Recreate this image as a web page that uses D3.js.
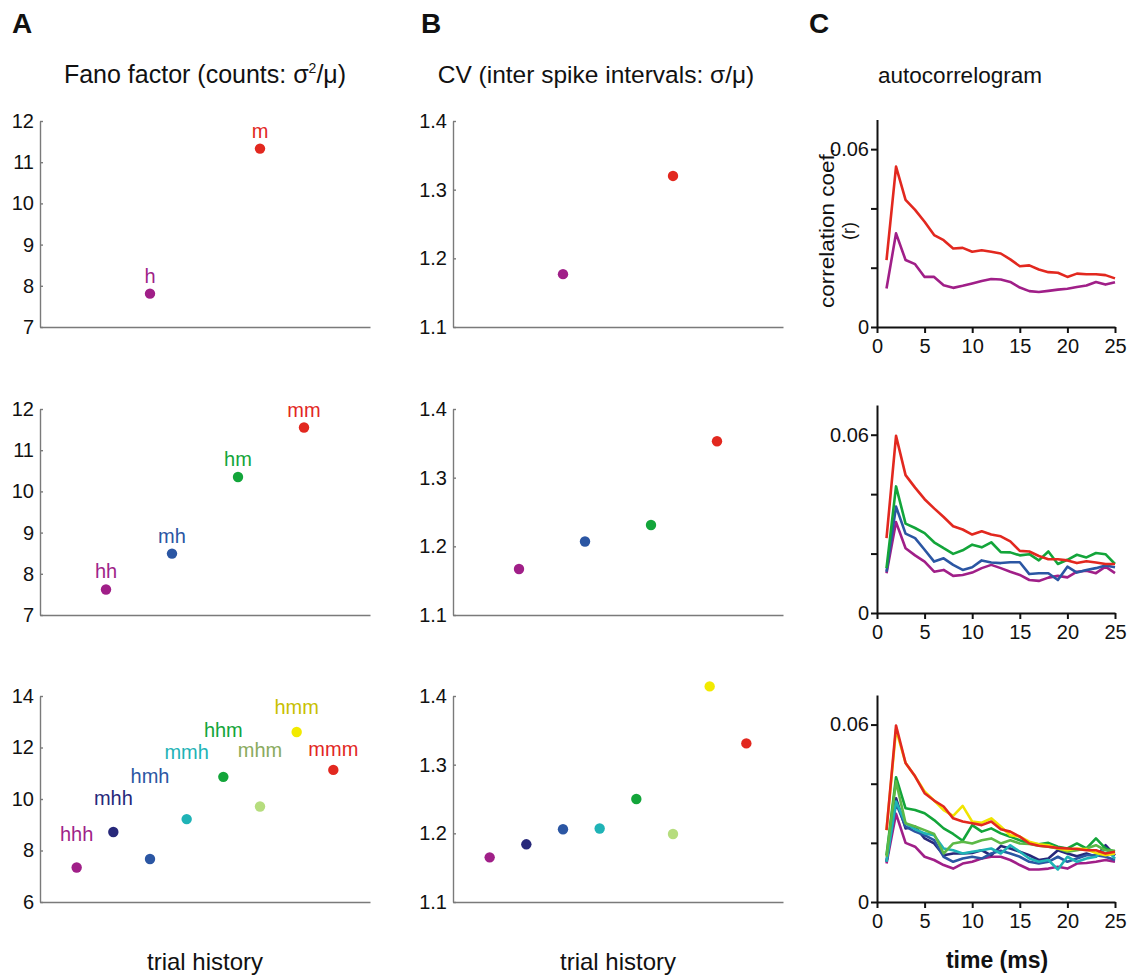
<!DOCTYPE html>
<html>
<head>
<meta charset="utf-8">
<script src="https://cdn.jsdelivr.net/npm/d3@7"></script>
<style>
  body { margin: 0; background: #fff; }
  svg { display: block; font-family: 'Liberation Sans', Arial, Helvetica, sans-serif; }
</style>
</head>
<body>
<div id="chart"></div>
<script>
// trial history categories, one list per row
const cats1 = ['h', 'm'];
const cats2 = ['hh', 'mh', 'hm', 'mm'];
const cats3 = ['hhh', 'mhh', 'hmh', 'mmh', 'hhm', 'mhm', 'hmm', 'mmm'];

// Fano factor (counts)
const fano1 = [7.81, 11.33];
const fano2 = [7.62, 8.49, 10.35, 11.55];
const fano3 = [7.34, 8.72, 7.67, 9.22, 10.86, 9.71, 12.6, 11.13];
// label heights of the third row, in Fano units
const fano3Labels = [8.35, 9.77, 10.61, 11.54, 12.42, 11.64, 13.29, 11.68];

// CV of inter spike intervals
const cv1 = [1.177, 1.32];
const cv2 = [1.167, 1.207, 1.231, 1.353];
const cv3 = [1.165, 1.184, 1.206, 1.207, 1.25, 1.199, 1.414, 1.331];

// tick values
const fanoTicks = [7, 8, 9, 10, 11, 12];
const fanoTicks3 = [6, 8, 10, 12, 14];
const cvTicks = [1.1, 1.2, 1.3, 1.4];
const lagTicks = [0, 5, 10, 15, 20, 25];
const corrTicks = [0, 0.02, 0.04, 0.06];

// autocorrelograms, lag 1..25 ms
const lags = [1, 2, 3, 4, 5, 6, 7, 8, 9, 10, 11, 12, 13, 14, 15, 16, 17, 18, 19, 20, 21, 22, 23, 24, 25];
const ac_h = [0.013, 0.0316, 0.0226, 0.0212, 0.0169, 0.0169, 0.0141, 0.0132, 0.0139, 0.0147, 0.0155, 0.0162, 0.016, 0.0152, 0.0133, 0.0121, 0.0118, 0.0122, 0.0126, 0.0129, 0.0135, 0.014, 0.0152, 0.0143, 0.0151];
const ac_m = [0.0226, 0.0541, 0.0429, 0.0395, 0.0355, 0.031, 0.0293, 0.0265, 0.0267, 0.0254, 0.0259, 0.0254, 0.0248, 0.0228, 0.0205, 0.0208, 0.0194, 0.0185, 0.0183, 0.0169, 0.018, 0.0178, 0.0178, 0.0175, 0.0164];

const ac_hh = [0.0134, 0.0306, 0.0218, 0.0194, 0.0173, 0.0139, 0.0145, 0.0125, 0.0128, 0.0136, 0.0151, 0.0162, 0.0151, 0.0139, 0.0128, 0.0111, 0.0108, 0.0119, 0.0125, 0.012, 0.0139, 0.0142, 0.0134, 0.0156, 0.0134];
const ac_mh = [0.0139, 0.0358, 0.0267, 0.0252, 0.0213, 0.0173, 0.0184, 0.0162, 0.0145, 0.0154, 0.0177, 0.017, 0.0168, 0.0171, 0.0171, 0.0131, 0.0134, 0.0134, 0.0111, 0.0156, 0.0136, 0.0145, 0.0151, 0.016, 0.0154];
const ac_hm = [0.0151, 0.0426, 0.0301, 0.0286, 0.0269, 0.0238, 0.0218, 0.0199, 0.0211, 0.023, 0.0221, 0.0238, 0.0205, 0.0204, 0.0194, 0.0198, 0.0177, 0.0207, 0.0165, 0.0179, 0.0196, 0.0187, 0.0202, 0.0198, 0.0165];
const ac_mm = [0.0252, 0.0596, 0.0464, 0.0422, 0.0383, 0.0352, 0.0323, 0.0292, 0.0281, 0.0264, 0.0275, 0.0264, 0.0258, 0.0241, 0.0209, 0.0207, 0.0192, 0.0181, 0.0181, 0.0177, 0.0168, 0.0174, 0.017, 0.0165, 0.0165];

const ac_hhh = [0.013, 0.0298, 0.02, 0.0187, 0.0153, 0.0142, 0.0125, 0.0113, 0.013, 0.0136, 0.0147, 0.0153, 0.0153, 0.0142, 0.0125, 0.011, 0.011, 0.0113, 0.0119, 0.0113, 0.013, 0.0132, 0.0136, 0.0142, 0.0136];
const ac_mhh = [0.0136, 0.0351, 0.0249, 0.0255, 0.0215, 0.0198, 0.0158, 0.0164, 0.0164, 0.0166, 0.0175, 0.0158, 0.0189, 0.0181, 0.017, 0.0158, 0.0142, 0.0147, 0.0175, 0.0164, 0.0155, 0.0164, 0.0153, 0.0192, 0.0158];
const ac_hmh = [0.0136, 0.0334, 0.0255, 0.0238, 0.0226, 0.0209, 0.0153, 0.0136, 0.0147, 0.0153, 0.0147, 0.0164, 0.0173, 0.0164, 0.0153, 0.0136, 0.013, 0.0136, 0.0153, 0.0136, 0.0147, 0.0158, 0.0158, 0.0153, 0.0142];
const ac_mmh = [0.0136, 0.034, 0.0266, 0.0246, 0.0232, 0.0226, 0.0181, 0.0175, 0.0164, 0.017, 0.0175, 0.0181, 0.0164, 0.0192, 0.017, 0.0147, 0.0136, 0.0142, 0.011, 0.0153, 0.0136, 0.0147, 0.0153, 0.0181, 0.0147];
const ac_hhm = [0.0158, 0.0422, 0.0317, 0.0311, 0.03, 0.0277, 0.0249, 0.023, 0.0207, 0.026, 0.0238, 0.0249, 0.0232, 0.0221, 0.0209, 0.0198, 0.0195, 0.02, 0.0187, 0.0181, 0.0198, 0.0181, 0.0215, 0.0181, 0.017];
const ac_mhm = [0.0153, 0.0408, 0.0266, 0.0255, 0.0243, 0.023, 0.0164, 0.0198, 0.0204, 0.0198, 0.0209, 0.0215, 0.0198, 0.0209, 0.0198, 0.0196, 0.019, 0.0187, 0.0181, 0.017, 0.0175, 0.0181, 0.0192, 0.0175, 0.0173];
const ac_hmm = [0.0243, 0.0583, 0.047, 0.0425, 0.0374, 0.0343, 0.0311, 0.0291, 0.0325, 0.0272, 0.0268, 0.0283, 0.0255, 0.0226, 0.0221, 0.0204, 0.0195, 0.0192, 0.0181, 0.0175, 0.0181, 0.0178, 0.0166, 0.0158, 0.0164];
const ac_mmm = [0.0243, 0.0597, 0.047, 0.0425, 0.0368, 0.0343, 0.0323, 0.0283, 0.0272, 0.0266, 0.026, 0.0272, 0.0246, 0.0238, 0.0221, 0.0198, 0.019, 0.0187, 0.0183, 0.0181, 0.0179, 0.0175, 0.0175, 0.0164, 0.017];

// colours per history
const dotColor = {
    h: '#a01f88', hh: '#a01f88', hhh: '#a01f88',
    m: '#e2281f', mm: '#e2281f', mmm: '#e2281f',
    mh: '#2b56a3', hmh: '#2b56a3',
    hm: '#13a53a', hhm: '#13a53a',
    mhh: '#27287a', mmh: '#1fb3b6',
    mhm: '#b6dd7e', hmm: '#f2ea00'
};
const labelColor = Object.assign({}, dotColor, { mhm: '#8aab5e', hmm: '#c8c000' });
const lineColor = Object.assign({}, dotColor, { mhm: '#5cb947', hmm: '#f0e400' });

const width = 1134;
const height = 978;

const svg = d3.select('#chart')
    .append('svg')
    .attr('width', width)
    .attr('height', height);

svg.append('rect').attr('width', width).attr('height', height).attr('fill', '#fff');

// vertical extent of each row
const rowsAB = [{ y0: 327, y1: 121 }, { y0: 615, y1: 409 }, { y0: 902, y1: 696 }];
const rowsC = [{ y0: 327, y1: 119.5 }, { y0: 613, y1: 405 }, { y0: 902, y1: 695 }];

function dotPanel(x0, row, cats, vals, yDomain, yTicks, fmt, showLabels, labelAt) {
    const x = d3.scaleLinear().domain([0, cats.length + 1]).range([x0, x0 + 330]);
    const y = d3.scaleLinear().domain(yDomain).range([row.y0, row.y1]);
    const g = svg.append('g');

    const yAxis = g.append('g')
        .attr('transform', `translate(${x0},0)`)
        .call(d3.axisLeft(y).tickValues(yTicks).tickFormat(fmt).tickSize(-3).tickSizeOuter(0).tickPadding(6));
    const xAxis = g.append('g')
        .attr('transform', `translate(0,${row.y0})`)
        .call(d3.axisBottom(x).tickValues([]).tickSizeOuter(0));

    [yAxis, xAxis].forEach(a => {
        a.selectAll('path, line').attr('stroke', '#7a7a7a').attr('stroke-width', 1.4);
    });
    yAxis.selectAll('text').attr('font-size', 20).attr('fill', '#111').attr('font-family', null);

    g.selectAll('circle')
        .data(cats)
        .join('circle')
        .attr('cx', (d, i) => x(i + 1))
        .attr('cy', (d, i) => y(vals[i]))
        .attr('r', 5.2)
        .attr('fill', d => dotColor[d]);

    if (showLabels) {
        g.selectAll('text.lab')
            .data(cats)
            .join('text')
            .attr('class', 'lab')
            .attr('x', (d, i) => x(i + 1))
            .attr('y', (d, i) => labelAt ? y(labelAt[i]) : y(vals[i]) - 11)
            .attr('text-anchor', 'middle')
            .attr('font-size', 20)
            .attr('fill', d => labelColor[d])
            .text(d => d);
    }
}

function acPanel(row, cats, series) {
    const x = d3.scaleLinear().domain([0, 25]).range([877, 1115]);
    const y = d3.scaleLinear().domain([0, 0.07]).range([row.y0, row.y1]);
    const g = svg.append('g');

    const yAxis = g.append('g')
        .attr('transform', 'translate(877,0)')
        .call(d3.axisLeft(y).tickValues(corrTicks)
            .tickFormat(d => d === 0 ? '0' : (d === 0.06 ? '0.06' : ''))
            .tickSize(6).tickSizeOuter(0).tickPadding(2));
    const xAxis = g.append('g')
        .attr('transform', `translate(0,${row.y0})`)
        .call(d3.axisBottom(x).tickValues(lagTicks).tickSize(6).tickSizeOuter(0).tickPadding(6));

    [yAxis, xAxis].forEach(a => {
        a.selectAll('path, line').attr('stroke', '#111').attr('stroke-width', 2);
        a.selectAll('text').attr('font-size', 20).attr('fill', '#111').attr('font-family', null);
    });

    const line = d3.line()
        .x((d, i) => x(lags[i]))
        .y(d => y(d));

    g.selectAll('path.ac')
        .data(series)
        .join('path')
        .attr('class', 'ac')
        .attr('d', line)
        .attr('fill', 'none')
        .attr('stroke', (d, i) => lineColor[cats[i]])
        .attr('stroke-width', 2.6)
        .attr('stroke-linejoin', 'round');
}

// A: Fano factor
dotPanel(40, rowsAB[0], cats1, fano1, [7, 12], fanoTicks, d3.format('d'), true);
dotPanel(40, rowsAB[1], cats2, fano2, [7, 12], fanoTicks, d3.format('d'), true);
dotPanel(40, rowsAB[2], cats3, fano3, [6, 14], fanoTicks3, d3.format('d'), true, fano3Labels);

// B: CV
dotPanel(453, rowsAB[0], cats1, cv1, [1.1, 1.4], cvTicks, d3.format('.1f'), false);
dotPanel(453, rowsAB[1], cats2, cv2, [1.1, 1.4], cvTicks, d3.format('.1f'), false);
dotPanel(453, rowsAB[2], cats3, cv3, [1.1, 1.4], cvTicks, d3.format('.1f'), false);

// C: autocorrelograms
acPanel(rowsC[0], cats1, [ac_h, ac_m]);
acPanel(rowsC[1], cats2, [ac_hh, ac_mh, ac_hm, ac_mm]);
acPanel(rowsC[2], cats3, [ac_hhh, ac_mhh, ac_hmh, ac_mmh, ac_hhm, ac_mhm, ac_hmm, ac_mmm]);

// panel letters
[['A', 12], ['B', 421], ['C', 809]].forEach(([t, x]) => {
    svg.append('text').attr('x', x).attr('y', 33)
        .attr('font-size', 28).attr('font-weight', 'bold').attr('fill', '#111')
        .text(t);
});

// titles
const fanoTitle = svg.append('text').attr('x', 205).attr('y', 83)
    .attr('text-anchor', 'middle').attr('font-size', 25).attr('fill', '#111');
fanoTitle.append('tspan').text('Fano factor (counts: σ');
fanoTitle.append('tspan').attr('font-size', 14).attr('dy', -10).text('2');
fanoTitle.append('tspan').attr('dy', 10).text('/μ)');

svg.append('text').attr('x', 596).attr('y', 83)
    .attr('text-anchor', 'middle').attr('font-size', 24.5).attr('fill', '#111')
    .text('CV (inter spike intervals: σ/μ)');

svg.append('text').attr('x', 960).attr('y', 83)
    .attr('text-anchor', 'middle').attr('font-size', 22.5).attr('fill', '#111')
    .text('autocorrelogram');

// axis titles
svg.append('text').attr('x', 205).attr('y', 970)
    .attr('text-anchor', 'middle').attr('font-size', 24).attr('fill', '#111')
    .text('trial history');
svg.append('text').attr('x', 618).attr('y', 970)
    .attr('text-anchor', 'middle').attr('font-size', 24).attr('fill', '#111')
    .text('trial history');
svg.append('text').attr('x', 997).attr('y', 968)
    .attr('text-anchor', 'middle').attr('font-size', 23).attr('font-weight', 'bold').attr('fill', '#111')
    .text('time (ms)');

svg.append('text')
    .attr('transform', 'translate(834,228) rotate(-90)')
    .attr('text-anchor', 'middle').attr('font-size', 20).attr('fill', '#111')
    .attr('textLength', 160).attr('lengthAdjust', 'spacingAndGlyphs')
    .text('correlation coef.');
svg.append('text')
    .attr('transform', 'translate(855,231) rotate(-90)')
    .attr('text-anchor', 'middle').attr('font-size', 18).attr('fill', '#111')
    .text('(r)');
</script>
</body>
</html>
